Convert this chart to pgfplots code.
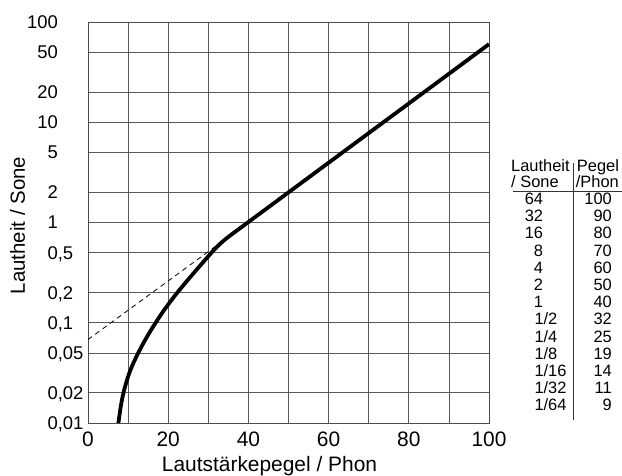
\documentclass[border=0pt]{standalone}
\usepackage{fontspec}
\setmainfont{Liberation Sans}
\usepackage{pgfplots}
\pgfplotsset{compat=1.18}

% tick labels aligned at the decimal comma
\newcommand{\dl}[2]{\makebox[0pt][r]{#1}\makebox[0pt][l]{,#2}}
\newcommand{\il}[1]{\makebox[0pt][r]{#1}}

\begin{document}
\begin{tikzpicture}
\begin{axis}[
    name=ax,
    scale only axis,
    width=401bp, height=401bp,
    xmin=0, xmax=100,
    ymode=log, ymin=0.01, ymax=100,
    xtick={0,20,...,100},
    xticklabels={0,20,40,60,80,100},
    minor xtick={10,30,...,90},
    ytick={0.01,0.02,0.05,0.1,0.2,0.5,1,2,5,10,20,50,100},
    yticklabels={{\dl{0}{01}},{\dl{0}{02}},{\dl{0}{05}},{\dl{0}{1}},{\dl{0}{2}},{\dl{0}{5}},
                 {\il{1}},{\il{2}},{\il{5}},{\il{10}},{\il{20}},{\il{50}},{\il{100}}},
    minor ytick={},
    xmajorgrids, xminorgrids, ymajorgrids,
    major grid style={black!65, line width=0.7bp},
    minor grid style={black!65, line width=0.7bp},
    major tick length=0pt, minor tick length=0pt,
    axis line style={black!70, line width=0.8bp},
    yticklabel style={font=\fontsize{18.5}{18.5}\selectfont, anchor=east, inner sep=0pt, text depth=0pt, xshift=-29.5bp},
    xticklabel style={font=\fontsize{21}{21}\selectfont, anchor=north, inner sep=0pt, text depth=0pt, yshift=-9bp},
]
% Lautheit-Kurve
\addplot[black, line width=3.8bp, smooth] coordinates {
    (7.5,0.00938) (8,0.01324) (8.5,0.01726) (9,0.02123) (10,0.02913)
    (11,0.03702) (12,0.04529) (13,0.05438) (14,0.06457) (15,0.07578)
    (16,0.08816) (17,0.102) (18,0.1173) (19,0.134) (20,0.1522)
    (21,0.172) (22,0.1934) (23,0.2168) (24,0.2424) (25,0.2704)
    (26,0.3012) (27,0.3352) (28,0.3727) (29,0.4144) (30,0.4601)
    (31,0.5105) (32,0.563) (33,0.6159) (34,0.6677) (35,0.7182)
    (36,0.7697) (40,1.011)
    (50,1.997) (60,3.945) (70,7.794) (80,15.39) (90,30.42) (100,60.1)
};
% Verlängerung der Geraden
\addplot[black, line width=0.8bp, dash pattern=on 5bp off 4bp] coordinates {
    (0,0.068) (33,0.627)
};
\end{axis}

\begin{scope}[shift={(ax.south west)}, x=1bp, y=1bp]
  \node[font=\fontsize{21}{21}\selectfont, anchor=base, inner sep=0pt] at (181.5,-48.7) {Lautstärkepegel / Phon};
  \node[font=\fontsize{20.5}{20.5}\selectfont, anchor=base, rotate=90, inner sep=0pt] at (-63,197.5) {Lautheit / Sone};

  % Tabelle
  \begin{scope}[every node/.style={font=\fontsize{16.5}{16.5}\selectfont, inner sep=0pt}]
    \node[anchor=base west] at (423,251.3) {Lautheit};
    \node[anchor=base west] at (423,235.7) {/ Sone};
    \node[anchor=base west] at (488.7,251.3) {Pegel};
    \node[anchor=base west] at (487.7,235.7) {/Phon};
    \draw[black!80, line width=0.8bp] (425,232) -- (534,232);
    \draw[black!80, line width=0.8bp] (485.5,260) -- (485.5,3);
    \foreach \a/\b [count=\i from 0] in {64/100,32/90,16/80,8/70,4/60,2/50,1/40} {
      \node[anchor=base east] at (455.3,218.5-17.2*\i) {\a};
      \node[anchor=base east] at (524,218.5-17.2*\i) {\b};
    }
    \foreach \d/\b [count=\i from 7] in {2/32,4/25,8/19,16/14,32/11,64/9} {
      \node[anchor=base west] at (446.3,218.5-17.2*\i) {1/\d};
      \node[anchor=base east] at (524,218.5-17.2*\i) {\b};
    }
  \end{scope}

  \pgfresetboundingbox
  \path (-88,-53) rectangle (534,423);
\end{scope}
\end{tikzpicture}
\end{document}
